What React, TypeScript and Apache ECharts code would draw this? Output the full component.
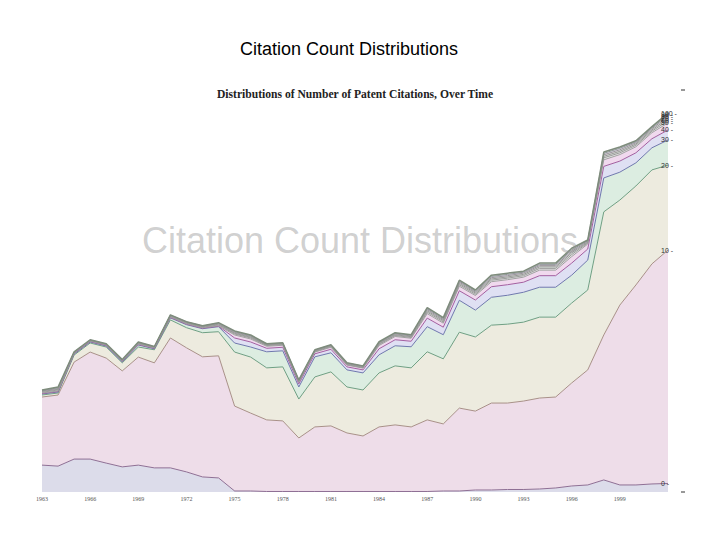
import React, { useEffect, useRef } from "react";
import * as echarts from "echarts";

const years = [
  "1963", "1964", "1965", "1966", "1967", "1968", "1969", "1970", "1971", "1972",
  "1973", "1974", "1975", "1976", "1977", "1978", "1979", "1980", "1981", "1982",
  "1983", "1984", "1985", "1986", "1987", "1988", "1989", "1990", "1991", "1992",
  "1993", "1994", "1995", "1996", "1997", "1998", "1999", "2000", "2001", "2002",
];

const seriesNames = ["0", "10", "20", "30", "40", "50", "60", "70", "80", "90", "100"];

// Patents granted per year (thousands), stacked by number of citations
const cites0 = [10.7, 10.3, 13.1, 13.1, 11.5, 10.0, 10.7, 9.6, 9.6, 8.0, 6.0, 5.6, 0.4, 0.4, 0.2, 0.2, 0.2, 0.2, 0.2, 0.2, 0.2, 0.2, 0.2, 0.2, 0.2, 0.4, 0.4, 0.8, 0.8, 1.0, 1.0, 1.2, 1.6, 2.4, 2.8, 4.8, 2.8, 2.8, 3.2, 3.4];
const cites10 = [27.1, 28.3, 38.6, 42.6, 41.8, 38.2, 43.0, 41.8, 51.7, 49.4, 47.8, 48.6, 33.8, 31.0, 28.5, 28.1, 21.3, 25.7, 26.1, 23.3, 22.1, 25.7, 26.5, 25.7, 28.5, 26.7, 33.0, 31.4, 34.6, 34.4, 35.2, 36.2, 36.2, 41.0, 45.8, 57.7, 71.6, 79.6, 87.6, 92.9];
const cites20 = [0.8, 0.8, 2.8, 3.6, 4.4, 3.2, 4.0, 5.2, 7.2, 8.0, 9.6, 9.6, 21.5, 22.3, 20.7, 21.5, 15.5, 19.9, 21.5, 18.3, 18.3, 21.5, 23.5, 23.5, 27.1, 25.9, 30.2, 29.5, 31.0, 31.4, 31.4, 32.2, 31.8, 31.8, 31.8, 49.0, 41.8, 39.4, 37.4, 33.8];
const cites30 = [0.4, 0.4, 0.4, 0.4, 0.4, 0.4, 0.8, 0.4, 0.8, 1.2, 1.6, 2.0, 3.6, 4.0, 6.4, 6.4, 4.8, 8.0, 7.6, 6.8, 6.8, 7.2, 8.0, 8.4, 10.0, 9.6, 12.7, 10.7, 11.1, 11.5, 11.9, 11.9, 11.9, 11.1, 11.9, 13.5, 11.1, 9.2, 8.8, 10.0];
const cites40 = [0.2, 0.2, 0.2, 0.2, 0.2, 0.2, 0.2, 0.2, 0.2, 0.2, 0.2, 0.2, 2.0, 2.0, 1.4, 1.4, 1.2, 1.2, 1.4, 1.2, 1.2, 2.4, 2.4, 2.2, 3.4, 3.0, 3.8, 4.0, 4.2, 4.2, 4.0, 4.6, 4.6, 4.8, 4.4, 4.6, 4.4, 4.0, 3.6, 4.0];
const cites50 = [0.2, 0.2, 0.2, 0.2, 0.2, 0.2, 0.2, 0.2, 0.2, 0.2, 0.2, 0.2, 1.2, 1.2, 0.8, 0.8, 0.7, 0.7, 0.8, 0.7, 0.7, 1.3, 1.3, 1.2, 1.8, 1.6, 1.8, 1.8, 2.0, 2.0, 2.0, 2.2, 2.2, 2.6, 2.0, 2.6, 2.6, 2.4, 2.4, 2.8];
const cites60 = [0.3, 0.4, 0.1, 0.1, 0.1, 0.1, 0.2, 0.1, 0.2, 0.2, 0.2, 0.3, 0.4, 0.4, 0.3, 0.3, 0.2, 0.2, 0.3, 0.2, 0.2, 0.4, 0.4, 0.3, 0.6, 0.5, 0.6, 0.5, 0.6, 0.6, 0.6, 0.7, 0.7, 0.8, 0.4, 0.8, 0.7, 0.6, 0.6, 0.9];
const cites70 = [0.3, 0.3, 0.1, 0.1, 0.1, 0.1, 0.2, 0.1, 0.2, 0.2, 0.2, 0.3, 0.3, 0.3, 0.2, 0.2, 0.2, 0.2, 0.2, 0.2, 0.2, 0.3, 0.3, 0.3, 0.5, 0.5, 0.5, 0.5, 0.5, 0.5, 0.5, 0.6, 0.6, 0.7, 0.3, 0.6, 0.6, 0.5, 0.5, 0.8];
const cites80 = [0.2, 0.3, 0.1, 0.1, 0.1, 0.1, 0.2, 0.1, 0.2, 0.2, 0.2, 0.2, 0.3, 0.3, 0.2, 0.2, 0.2, 0.2, 0.2, 0.2, 0.2, 0.3, 0.3, 0.3, 0.5, 0.4, 0.5, 0.4, 0.5, 0.5, 0.5, 0.5, 0.5, 0.6, 0.3, 0.6, 0.6, 0.5, 0.5, 0.8];
const cites90 = [0.2, 0.3, 0.1, 0.1, 0.1, 0.1, 0.1, 0.1, 0.1, 0.1, 0.1, 0.2, 0.3, 0.3, 0.2, 0.2, 0.2, 0.2, 0.2, 0.2, 0.2, 0.3, 0.3, 0.3, 0.4, 0.4, 0.4, 0.4, 0.5, 0.5, 0.4, 0.5, 0.5, 0.6, 0.3, 0.6, 0.6, 0.4, 0.4, 0.7];
const cites100 = [0.2, 0.3, 0.1, 0.1, 0.1, 0.1, 0.1, 0.1, 0.1, 0.1, 0.1, 0.2, 0.3, 0.3, 0.1, 0.1, 0.1, 0.1, 0.1, 0.1, 0.1, 0.2, 0.2, 0.2, 0.4, 0.4, 0.4, 0.4, 0.5, 0.5, 0.4, 0.5, 0.5, 0.6, 0.3, 0.5, 0.5, 0.4, 0.4, 0.7];

const fillColors = ["#dcdcea", "#eedde9", "#edebdf", "#dcede1", "#dfe0f3", "#f0d9ee", "#e4e4e4", "#e2e6e2", "#e8e0e8", "#e0e0e8", "#e4e4dc"];
const lineColors = ["#8e6f94", "#a89088", "#6f9f83", "#6f78ad", "#a35fa0", "#a0a0a0", "#9a9a9a", "#949a94", "#9a949a", "#8f959a", "#7e8c7c"];

export default function App() {
  const ref = useRef<HTMLDivElement>(null);
  useEffect(() => {
    const chart = echarts.init(ref.current!, null, { renderer: "svg" });
    const layers = [cites0, cites10, cites20, cites30, cites40, cites50, cites60, cites70, cites80, cites90, cites100];
    const showIdx = (i: number) => i % 3 === 0 && i < years.length - 1;
    chart.setOption({
      animation: false,
      backgroundColor: "#ffffff",
      grid: { left: 42, right: 52, top: 90, bottom: 48 },
      xAxis: {
        type: "category",
        data: years,
        boundaryGap: false,
        axisLine: { show: false },
        axisTick: { show: true, inside: true, length: 4, interval: showIdx, lineStyle: { color: "#555" } },
        axisLabel: { interval: showIdx, fontSize: 6, color: "#555", margin: 4, fontFamily: "Liberation Serif" },
        splitLine: { show: false },
      },
      yAxis: { type: "value", min: 0, max: 160, show: false },
      series: layers.map((d, i) => ({
        name: seriesNames[i],
        type: "line",
        stack: "total",
        data: d,
        symbol: "none",
        smooth: false,
        lineStyle: { color: lineColors[i], width: i === layers.length - 1 ? 1.5 : 1 },
        areaStyle: { color: fillColors[i], opacity: 1 },
        emphasis: { disabled: true },
        endLabel: {
          show: true,
          formatter: "{a} -",
          fontSize: 7,
          color: "#333",
          fontFamily: "Liberation Sans",
          offset: [-15, 0],
        },
      })),
      graphic: [
        {
          type: "text",
          x: 349,
          y: 49,
          z: 100,
          style: {
            text: "Citation Count Distributions",
            fontFamily: "Liberation Sans, Arial, sans-serif",
            fontSize: 18,
            fill: "#000",
            align: "center",
            verticalAlign: "middle",
          },
        },
        {
          type: "text",
          x: 355,
          y: 94,
          z: 100,
          style: {
            text: "Distributions of Number of Patent Citations, Over Time",
            fontFamily: "Liberation Serif, serif",
            fontSize: 11.6,
            fontWeight: "bold",
            fill: "#222",
            align: "center",
            verticalAlign: "middle",
          },
        },
        {
          type: "text",
          x: 360,
          y: 240,
          z: 100,
          style: {
            text: "Citation Count Distributions",
            fontFamily: "Liberation Sans, Arial, sans-serif",
            fontSize: 36,
            fill: "rgba(150,150,150,0.45)",
            align: "center",
            verticalAlign: "middle",
          },
        },
        { type: "line", z: 100, shape: { x1: 681, y1: 90, x2: 685, y2: 90 }, style: { stroke: "#333", lineWidth: 1 } },
        { type: "line", z: 100, shape: { x1: 681, y1: 492, x2: 685, y2: 492 }, style: { stroke: "#333", lineWidth: 1 } },
      ],
    });
    return () => chart.dispose();
  }, []);
  return <div ref={ref} style={{ position: "fixed", left: 0, top: 0, width: 720, height: 540 }} />;
}
